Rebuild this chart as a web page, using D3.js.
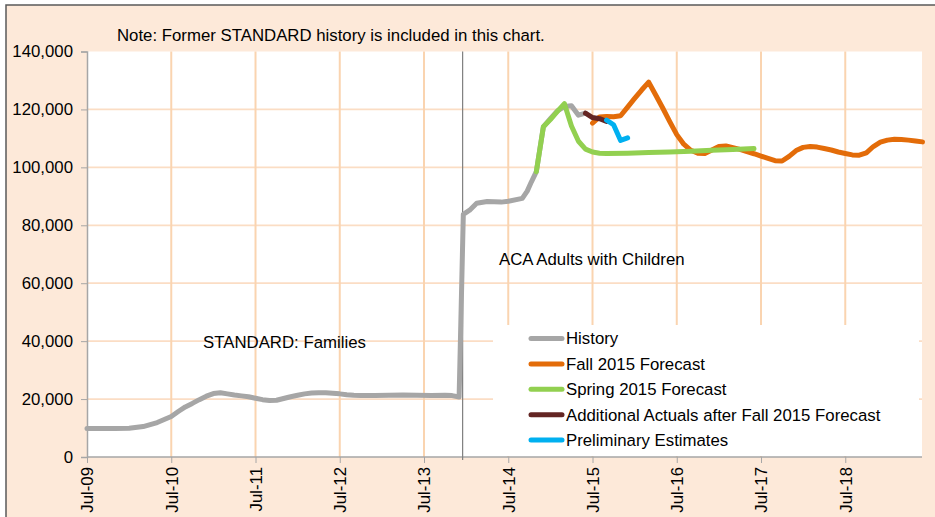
<!DOCTYPE html>
<html>
<head>
<meta charset="utf-8">
<script src="https://cdn.jsdelivr.net/npm/d3@7"></script>
<style>
    body { margin: 0; background: #fff; }
    svg { display: block; font-family: 'Liberation Sans', Arial, sans-serif; }
</style>
</head>
<body>
<div class="d3-line-chart"></div>
<script>
// months counted from Jul-09 (0 = Jul-09)
var tickMonths = [0, 12, 24, 36, 48, 60, 72, 84, 96, 108];
var tickLabels = ['Jul-09', 'Jul-10', 'Jul-11', 'Jul-12', 'Jul-13', 'Jul-14', 'Jul-15', 'Jul-16', 'Jul-17', 'Jul-18'];
var yTicks = [0, 20000, 40000, 60000, 80000, 100000, 120000, 140000];

var historyData = [
    [0, 9800], [2, 9800], [4, 9850], [6, 9900], [8, 10500], [10, 11900], [12, 14000], [13, 15700],
    [14, 17300], [15, 18500], [16, 19800], [17, 21000], [18, 21900], [19, 22200], [20, 21800],
    [21, 21400], [22, 21100], [23, 20800], [24, 20300], [25, 19800], [26, 19500], [27, 19600],
    [28, 20200], [29, 20800], [30, 21300], [31, 21800], [32, 22100], [33, 22200], [34, 22200],
    [35, 22000], [36, 21800], [37, 21500], [38, 21300], [39, 21200], [41, 21200], [43, 21300],
    [45, 21400], [47, 21300], [49, 21200], [51, 21300], [52, 21200], [53, 20700], [53.6, 83800],
    [54.5, 85200], [55.5, 87600], [57, 88200], [59, 88000], [60, 88300], [62, 89300], [62.7, 91800],
    [63.3, 95000], [64, 98500], [65, 114000], [66, 116800], [67, 119500], [68, 121000], [69, 121300],
    [70, 118000], [71, 118700]
];
var fall2015 = [
    [72, 115300], [73, 117400], [74, 117600], [75, 117500], [76, 117800], [77, 120800], [78, 123800],
    [79, 126700], [80, 129400], [81, 125000], [82, 120500], [83, 115800], [84, 111300], [85, 108000],
    [86, 105900], [87, 104900], [88, 104800], [89, 106000], [90, 107200], [91, 107400], [92, 106800],
    [93, 106200], [94, 105400], [95, 104700], [96, 103900], [97, 103100], [98, 102300], [99, 102200],
    [100, 103800], [101, 105800], [102, 106900], [103, 107200], [104, 107000], [105, 106500],
    [106, 106000], [107, 105300], [108, 104800], [109, 104300], [110, 104200], [111, 105000],
    [112, 107200], [113, 108700], [114, 109400], [115, 109700], [116, 109600], [117, 109400],
    [118, 109100], [119, 108800]
];
var spring2015 = [
    [64, 98500], [65, 114000], [66, 116500], [67, 119300], [68, 122000], [69, 114300], [70, 109000],
    [71, 106300], [72, 105300], [73, 104900], [74, 104800], [77, 104900], [80, 105100], [83, 105300],
    [86, 105600], [89, 105900], [92, 106200], [95, 106500]
];
var additionalActuals = [[71, 118700], [72, 117200], [73, 116800], [74, 115900]];
var preliminary = [[74, 116300], [75, 114700], [76, 109300], [77, 110200]];

var seriesNames = ['History', 'Fall 2015 Forecast', 'Spring 2015 Forecast', 'Additional Actuals after Fall 2015 Forecast', 'Preliminary Estimates'];
var seriesColors = ['#A6A6A6', '#E36C09', '#92D050', '#632523', '#00B0F0'];
var seriesData = [historyData, fall2015, spring2015, additionalActuals, preliminary];

var acaStart = 53.5;

var svg = d3.select('.d3-line-chart').append('svg')
    .attr('width', 935)
    .attr('height', 517);

var plot = { left: 87, right: 922, top: 51.5, bottom: 457 };
var x = d3.scaleLinear().domain([0, 119]).range([plot.left, plot.left + 119 * 7.021]);
var y = d3.scaleLinear().domain([0, 140000]).range([plot.bottom, plot.top]);
var fs = '16.8px';

// outer chart area
svg.append('rect')
    .attr('x', 6).attr('y', 5)
    .attr('width', 940).attr('height', 520)
    .style('fill', '#FDE9D9')
    .style('stroke', '#595959')
    .style('stroke-width', 1.5);

svg.append('rect')
    .attr('x', plot.left).attr('y', plot.top)
    .attr('width', plot.right - plot.left).attr('height', plot.bottom - plot.top)
    .style('fill', '#fff');

// gridlines
svg.append('g').selectAll('line')
    .data(yTicks.slice(1, -1))
    .join('line')
    .attr('x1', plot.left).attr('x2', plot.right)
    .attr('y1', function(d) { return y(d); }).attr('y2', function(d) { return y(d); })
    .style('stroke', '#FBDDC4')
    .style('stroke-width', 1.8);

svg.append('g').selectAll('line')
    .data(tickMonths.slice(1))
    .join('line')
    .attr('x1', function(d) { return x(d); }).attr('x2', function(d) { return x(d); })
    .attr('y1', plot.top).attr('y2', plot.bottom)
    .style('stroke', '#FAD4B0')
    .style('stroke-width', 2);

// legend box sits over the grid
var legend = svg.append('g');
legend.append('rect')
    .attr('x', 493).attr('y', 325)
    .attr('width', 426).attr('height', 131)
    .style('fill', '#fff');

// axes
var yAxis = d3.axisLeft(y).tickValues(yTicks).tickSize(6).tickPadding(8)
    .tickFormat(d3.format(','));
var gy = svg.append('g')
    .attr('transform', 'translate(' + plot.left + ',0)')
    .call(yAxis);
gy.select('.domain').style('stroke', '#A6A6A6').style('stroke-width', 1.5);
gy.selectAll('.tick line').style('stroke', '#A6A6A6');
gy.selectAll('text').style('font-size', fs).style('fill', '#000');

var xAxis = d3.axisBottom(x).tickValues(tickMonths).tickSize(6)
    .tickFormat(function(d, i) { return tickLabels[i]; });
var gx = svg.append('g')
    .attr('transform', 'translate(0,' + plot.bottom + ')')
    .call(xAxis);
gx.select('.domain').attr('d', 'M' + plot.left + ',0H' + plot.right)
    .style('stroke', '#A6A6A6').style('stroke-width', 1.5);
gx.selectAll('.tick line').style('stroke', '#A6A6A6');
gx.selectAll('text')
    .attr('transform', 'rotate(-90)')
    .attr('x', -10).attr('y', 0).attr('dy', '0.35em')
    .style('text-anchor', 'end')
    .style('font-size', fs).style('fill', '#000');
gy.attr('font-family', null).attr('font-size', null);
gx.attr('font-family', null).attr('font-size', null);

// ACA divider
svg.append('line')
    .attr('x1', x(acaStart)).attr('x2', x(acaStart))
    .attr('y1', plot.top).attr('y2', plot.bottom + 3)
    .style('stroke', '#7F7F7F')
    .style('stroke-width', 1.2);

// series
var line = d3.line()
    .x(function(d) { return x(d[0]); })
    .y(function(d) { return y(d[1]); });

svg.append('g').selectAll('path')
    .data(seriesData)
    .join('path')
    .attr('d', line)
    .style('fill', 'none')
    .style('stroke', function(d, i) { return seriesColors[i]; })
    .style('stroke-width', 5)
    .style('stroke-linejoin', 'round')
    .style('stroke-linecap', 'round');

// legend entries
var rows = legend.selectAll('g.row')
    .data(seriesNames)
    .join('g')
    .attr('class', 'row')
    .attr('transform', function(d, i) { return 'translate(0,' + (338.5 + i * 25.4) + ')'; });
rows.append('line')
    .attr('x1', 531).attr('x2', 562)
    .style('stroke', function(d, i) { return seriesColors[i]; })
    .style('stroke-width', 5)
    .style('stroke-linecap', 'round');
rows.append('text')
    .attr('x', 566).attr('dy', '0.35em')
    .style('font-size', fs)
    .text(function(d) { return d; });

// notes
svg.append('text')
    .attr('x', 117).attr('y', 41)
    .style('font-size', fs)
    .text('Note: Former STANDARD history is included in this chart.');
svg.append('text')
    .attr('x', 499).attr('y', 265)
    .style('font-size', fs)
    .text('ACA Adults with Children');
svg.append('text')
    .attr('x', 203).attr('y', 348)
    .style('font-size', fs)
    .text('STANDARD: Families');
</script>
</body>
</html>
